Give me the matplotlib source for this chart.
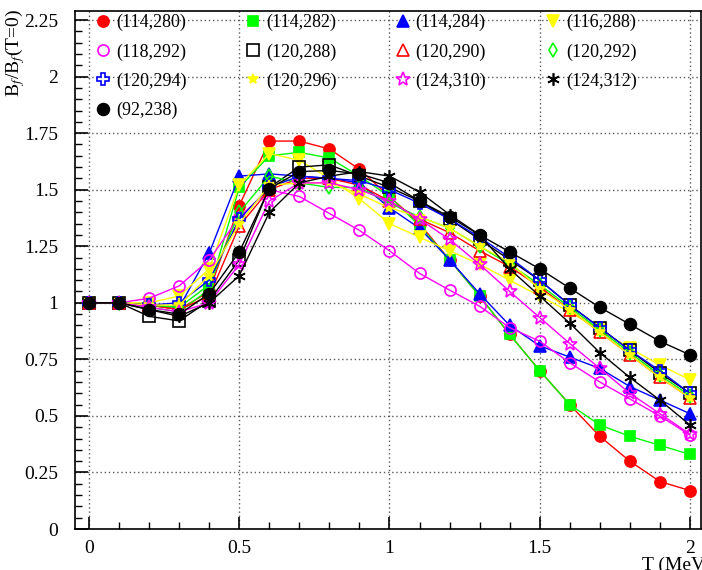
import numpy as np
import matplotlib
matplotlib.use('Agg')
import matplotlib.pyplot as plt
from matplotlib.lines import Line2D
from matplotlib.ticker import MultipleLocator

# #### DATA ####
temp = [0.0, 0.1, 0.2, 0.3, 0.4, 0.5, 0.6, 0.7, 0.8, 0.9, 1.0,
        1.1, 1.2, 1.3, 1.4, 1.5, 1.6, 1.7, 1.8, 1.9, 2.0]

labels = ['(114,280)', '(114,282)', '(114,284)', '(116,288)',
          '(118,292)', '(120,288)', '(120,290)', '(120,292)',
          '(120,294)', '(120,296)', '(124,310)', '(124,312)',
          '(92,238)']

n114_280 = [1, 1, 0.99, 0.97, 1.05, 1.43, 1.715, 1.715, 1.68, 1.59, 1.47,
            1.35, 1.19, 1.03, 0.86, 0.70, 0.55, 0.41, 0.30, 0.21, 0.17]
n114_282 = [1, 1, 0.98, 0.96, 1.06, 1.51, 1.65, 1.665, 1.64, 1.56, 1.47,
            1.34, 1.19, 1.03, 0.86, 0.70, 0.55, 0.46, 0.41, 0.37, 0.33]
n114_284 = [1, 1, 0.99, 0.98, 1.22, 1.56, 1.57, 1.56, 1.55, 1.53, 1.42,
            1.33, 1.19, 1.04, 0.90, 0.81, 0.76, 0.71, 0.63, 0.57, 0.51]
n116_288 = [1, 1, 1.0, 1.03, 1.15, 1.52, 1.66, 1.63, 1.55, 1.46, 1.35,
            1.29, 1.23, 1.17, 1.10, 1.03, 0.96, 0.88, 0.80, 0.725, 0.66]
n118_292 = [1, 1, 1.02, 1.075, 1.19, 1.38, 1.50, 1.47, 1.395, 1.32, 1.23,
            1.13, 1.056, 0.985, 0.89, 0.83, 0.735, 0.65, 0.575, 0.50, 0.415]
n120_288 = [1, 1, 0.94, 0.92, 1.01, 1.19, 1.51, 1.60, 1.61, 1.56, 1.51,
            1.45, 1.37, 1.28, 1.19, 1.10, 0.99, 0.89, 0.79, 0.69, 0.60]
n120_290 = [1, 1, 0.99, 0.97, 1.03, 1.34, 1.50, 1.55, 1.55, 1.52, 1.45,
            1.37, 1.31, 1.23, 1.16, 1.07, 0.97, 0.87, 0.77, 0.67, 0.58]
n120_292 = [1, 1, 0.99, 0.98, 1.08, 1.40, 1.56, 1.53, 1.51, 1.51, 1.44,
            1.38, 1.33, 1.25, 1.17, 1.08, 0.98, 0.88, 0.78, 0.68, 0.59]
n120_294 = [1, 1, 0.99, 1.00, 1.10, 1.37, 1.51, 1.56, 1.55, 1.54, 1.50,
            1.44, 1.37, 1.29, 1.20, 1.10, 0.99, 0.89, 0.79, 0.70, 0.60]
n120_296 = [1, 1, 0.99, 0.99, 1.12, 1.35, 1.52, 1.53, 1.53, 1.48, 1.42,
            1.38, 1.33, 1.25, 1.18, 1.06, 0.97, 0.87, 0.77, 0.67, 0.58]
n124_310 = [1, 1, 0.98, 0.96, 1.0, 1.17, 1.45, 1.53, 1.53, 1.50, 1.45,
            1.37, 1.28, 1.17, 1.05, 0.935, 0.82, 0.71, 0.60, 0.51, 0.42]
n124_312 = [1, 1, 0.97, 0.94, 1.0, 1.12, 1.40, 1.53, 1.56, 1.58, 1.56,
            1.49, 1.39, 1.30, 1.15, 1.03, 0.91, 0.78, 0.67, 0.57, 0.46]
n92_238 = [1, 1, 0.97, 0.95, 1.04, 1.225, 1.505, 1.58, 1.585, 1.57, 1.53,
           1.45, 1.38, 1.30, 1.225, 1.15, 1.065, 0.98, 0.905, 0.83, 0.77]

series = [n114_280, n114_282, n114_284, n116_288, n118_292, n120_288,
          n120_290, n120_292, n120_294, n120_296, n124_310, n124_312, n92_238]

# (colour, marker, filled, marker size)
styles = [('#ff0000', 'o', True, 8),
          ('#00ff00', 's', True, 7.5),
          ('#0000ff', '^', True, 8),
          ('#ffff00', 'v', True, 8),
          ('#ff00ff', 'o', False, 8),
          ('#000000', 's', False, 8),
          ('#ff0000', '^', False, 8),
          ('#00ff00', 'd', False, 7),
          ('#0000ff', 'P', False, 8.5),
          ('#ffff00', '*', True, 7),
          ('#ff00ff', '*', False, 10),
          ('#000000', (6, 2, 0), True, 9),
          ('#000000', 'o', True, 8.5)]

plt.rcParams['font.family'] = ['Liberation Serif', 'DejaVu Serif']
plt.rcParams['mathtext.fontset'] = 'stix'

fig = plt.figure(figsize=(7.02, 5.70), dpi=100)
ax = fig.add_axes([0.1068, 0.0719, 0.8918, 0.9088])

handles = []
for vals, lab, (col, mk, filled, ms) in zip(series, labels, styles):
    mfc = col if filled else 'none'
    mew = 1.2
    ax.plot(temp, vals, color=col, lw=1.0, marker=mk, ms=ms,
            mfc=mfc, mec=col, mew=mew)
    handles.append(Line2D([], [], ls='none', marker=mk, ms=ms, color=col,
                          mfc=mfc, mec=col, mew=mew, label=lab))

ax.set_xlim(-0.047, 2.037)
ax.set_ylim(0, 2.29)
ax.xaxis.set_major_locator(MultipleLocator(0.5))
ax.xaxis.set_minor_locator(MultipleLocator(0.1))
ax.yaxis.set_major_locator(MultipleLocator(0.25))
ax.yaxis.set_minor_locator(MultipleLocator(0.05))
ax.set_xticks([0, 0.5, 1, 1.5, 2])
ax.set_xticklabels(['0', '0.5', '1', '1.5', '2'])
ax.set_yticks([0, 0.25, 0.5, 0.75, 1, 1.25, 1.5, 1.75, 2, 2.25])
ax.set_yticklabels(['0', '0.25', '0.5', '0.75', '1', '1.25', '1.5', '1.75', '2', '2.25'])
ax.tick_params(which='major', direction='in', length=9, width=1.2, labelsize=14, pad=8)
ax.tick_params(which='minor', direction='in', length=5, width=1.0)
ax.tick_params(axis='y', which='major', pad=12)
ax.grid(True, which='major', color='0.35', ls=(0, (1, 2)), lw=1.0)
ax.set_axisbelow(True)
for sp in ax.spines.values():
    sp.set_linewidth(1.2)

# legend is filled column by column, so reorder to read row by row
order = [0, 4, 8, 12, 1, 5, 9, 2, 6, 10, 3, 7, 11]
leg = ax.legend(handles=[handles[i] for i in order], ncol=4, loc='upper left',
                frameon=False, bbox_to_anchor=(0.022, 1.008), fontsize=13,
                handlelength=0.8, handletextpad=0.3, columnspacing=3.3,
                labelspacing=0.66, numpoints=1, borderaxespad=0.0)

fig.text(0.022, 0.985, r'B$_f$/B$_f$(T=0)', rotation=90, ha='center', va='top', fontsize=14)
fig.text(0.915, 0.008, 'T (MeV)', ha='left', va='center', fontsize=14)

plt.savefig('out.png', dpi=100)
